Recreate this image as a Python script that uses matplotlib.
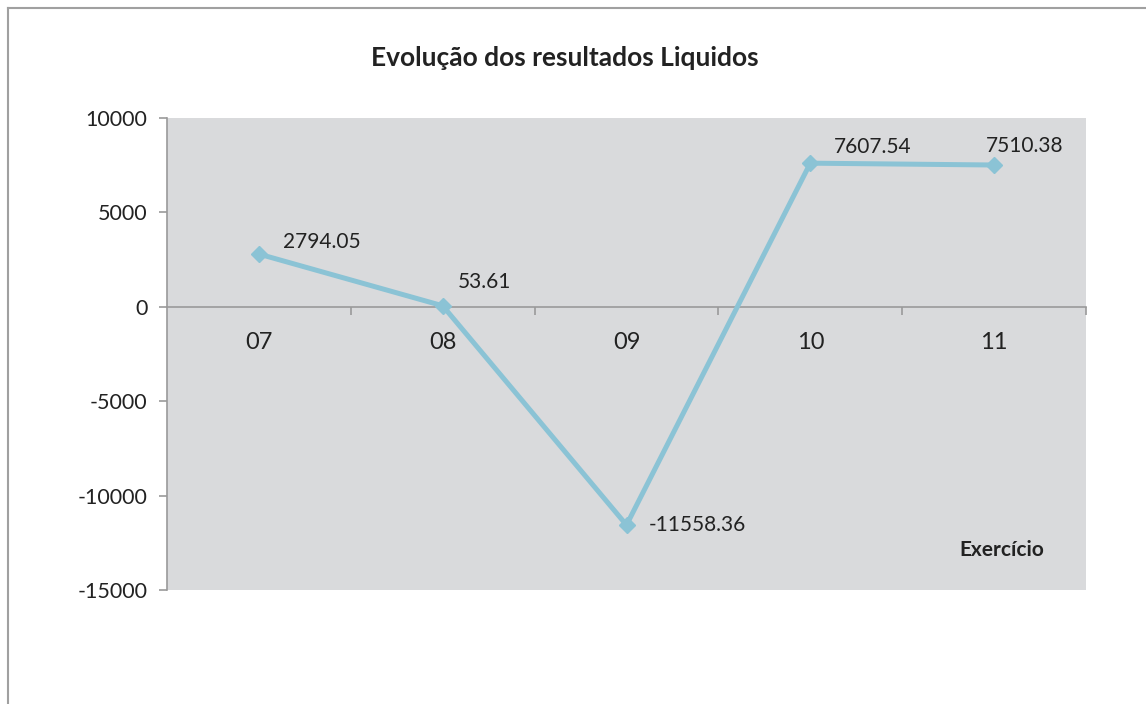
import matplotlib
matplotlib.use('Agg')
import matplotlib.pyplot as plt
from matplotlib.lines import Line2D
from matplotlib.ticker import FixedLocator

plt.rcParams['font.family'] = ['Lato', 'DejaVu Sans']

# net results per fiscal year
anos = ['07', '08', '09', '10', '11']
resultados = [2794.05, 53.61, -11558.36, 7607.54, 7510.38]
rotulos = ['2794.05', '53.61', '-11558.36', '7607.54', '7510.38']
# label offsets in points (dx, dy)
desloc = [(17, 9), (11, 17), (16, 0), (17, 12), (-6, 14)]

cor_linha = '#8BC3D5'
cor_fundo = '#D9DADC'
cor_eixo = '#9A9A9A'

fig = plt.figure(figsize=(11.46, 7.04), dpi=100)
ax = fig.add_axes([167 / 1146, 1 - 590 / 704, 919 / 1146, 472 / 704])
ax.set_facecolor(cor_fundo)

x = list(range(len(anos)))
ax.plot(x, resultados, color=cor_linha, lw=3.6, marker='D', ms=8,
        mfc=cor_linha, mec=cor_linha, zorder=3)

for xi, v, txt, (dx, dy) in zip(x, resultados, rotulos, desloc):
    ax.annotate(txt, (xi, v), xytext=(dx, dy), textcoords='offset points',
                ha='left', va='center', fontsize=15, color='#222222')

ax.set_xlim(-0.5, len(anos) - 0.5)
ax.set_ylim(-15000, 10000)
ax.set_yticks([-15000, -10000, -5000, 0, 5000, 10000])
ax.set_yticklabels(['-15000', '-10000', '-5000', '0', '5000', '10000'])

# category axis runs along zero
for s in ['top', 'right']:
    ax.spines[s].set_visible(False)
ax.spines['bottom'].set_position(('data', 0))
ax.spines['bottom'].set_color(cor_eixo)
ax.spines['bottom'].set_linewidth(1.2)
ax.spines['left'].set_color(cor_eixo)
ax.spines['left'].set_linewidth(1.2)

ax.xaxis.set_major_locator(FixedLocator(x))
ax.set_xticklabels(anos)
ax.xaxis.set_minor_locator(FixedLocator([i + 0.5 for i in x]))
ax.tick_params(axis='x', which='major', length=0, pad=18, labelsize=17,
               labelcolor='#222222')
ax.tick_params(axis='x', which='minor', length=6, width=1.2, color=cor_eixo,
               direction='out')
ax.tick_params(axis='y', length=6, width=1.2, color=cor_eixo, pad=8,
               labelsize=15.5, labelcolor='#222222')

ax.text(0.955, 0.085, 'Exercício', transform=ax.transAxes, ha='right',
        va='center', fontsize=15, fontweight='bold', color='#222222')

fig.text(565 / 1146, 1 - 58 / 704, 'Evolução dos resultados Liquidos',
         ha='center', va='center', fontsize=19, fontweight='bold',
         color='#222222')

# frame around the chart
fig.add_artist(Line2D([8 / 1146, 8 / 1146], [0, 1 - 8 / 704],
                      transform=fig.transFigure, color='#A0A0A0', lw=1.5))
fig.add_artist(Line2D([8 / 1146, 1], [1 - 8 / 704, 1 - 8 / 704],
                      transform=fig.transFigure, color='#A0A0A0', lw=1.5))

fig.savefig('out.png', dpi=100, facecolor='white')
